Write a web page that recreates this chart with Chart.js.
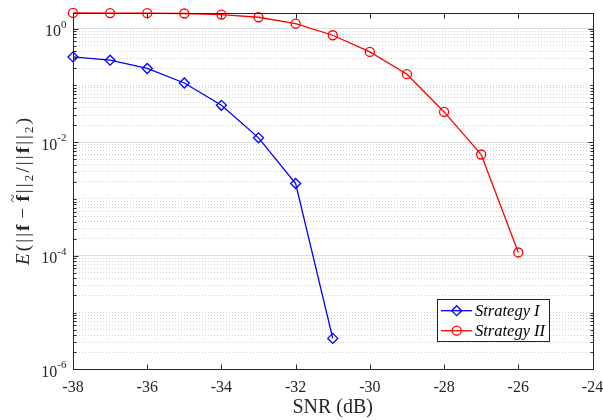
<!DOCTYPE html>
<html>
<head>
<meta charset="utf-8">
<script src="https://cdn.jsdelivr.net/npm/chart.js@4.4.0/dist/chart.umd.min.js"></script>
<style>
html, body { margin: 0; padding: 0; background: #fff; }
#wrap { width: 603px; height: 420px; }
</style>
</head>
<body>
<div id="wrap"><canvas id="myChart" width="603" height="420"></canvas></div>
<script>
// du lieu doc tu hinh
var snr = [-38, -37, -36, -35, -34, -33, -32, -31, -30, -29, -28, -27, -26];
var strategy1 = [0.316, 0.277, 0.198, 0.110, 0.0445, 0.0119, 0.00187, 3.5e-6];
var strategy2 = [1.88, 1.87, 1.86, 1.84, 1.76, 1.58, 1.22, 0.762, 0.387, 0.157, 0.034, 0.00605, 1.14e-4];
var xTicks = [-38, -36, -34, -32, -30, -28, -26, -24];
var yLabelExp = [0, -2, -4, -6];
var seriesNames = ['Strategy I', 'Strategy II'];

var yMin = 1e-6, yMax = 1.9;
var axisColor = '#262626';
var serif = '"Liberation Serif", "Times New Roman", serif';

function toPoints(xs, ys) {
    var out = [];
    ys.forEach(function (v, i) { out.push({ x: xs[i], y: v }); });
    return out;
}

function isMajor(tick) {
    return tick && tick.lvl === 2;
}

// ve khung, vach chia, nhan va chu thich kieu matlab
var matlabAxes = {
    id: 'matlabAxes',
    afterDraw: function (chart) {
        var ctx = chart.ctx;
        var ca = chart.chartArea;
        var xs = chart.scales.x, ys = chart.scales.y;
        var L = Math.round(ca.left) + 0.5, R = Math.round(ca.right) + 0.5;
        var T = Math.round(ca.top) + 0.5, B = Math.round(ca.bottom) + 0.5;
        ctx.save();
        ctx.strokeStyle = axisColor;
        ctx.lineWidth = 1;

        // vach x
        ctx.beginPath();
        xTicks.forEach(function (v) {
            var px = Math.round(xs.getPixelForValue(v)) + 0.5;
            ctx.moveTo(px, B); ctx.lineTo(px, B - 5);
            ctx.moveTo(px, T); ctx.lineTo(px, T + 5);
        });
        // vach y
        ys.ticks.forEach(function (t) {
            var py = Math.round(ys.getPixelForValue(t.value)) + 0.5;
            var len = t.lvl === 2 ? 5 : 3;
            ctx.moveTo(L, py); ctx.lineTo(L + len, py);
            ctx.moveTo(R, py); ctx.lineTo(R - len, py);
        });
        ctx.stroke();
        ctx.strokeRect(L, T, R - L, B - T);

        // nhan truc x
        ctx.fillStyle = axisColor;
        ctx.font = '16px ' + serif;
        ctx.textAlign = 'center';
        ctx.textBaseline = 'alphabetic';
        xTicks.forEach(function (v) {
            ctx.fillText(String(v), xs.getPixelForValue(v), 392);
        });

        // nhan truc y: 10 mu
        yLabelExp.forEach(function (e) {
            var py = ys.getPixelForValue(Math.pow(10, e));
            var right = ca.left - 6.5;
            ctx.font = '11px ' + serif;
            ctx.textAlign = 'right';
            var sup = String(e);
            var sw = ctx.measureText(sup).width;
            ctx.fillText(sup, right, py - 1);
            ctx.font = '16px ' + serif;
            ctx.fillText('10', right - sw, py + 7.5);
        });

        // tieu de truc x
        ctx.font = '20px ' + serif;
        ctx.textAlign = 'center';
        ctx.fillText('SNR (dB)', (ca.left + ca.right) / 2, 412.5);

        // tieu de truc y
        drawYTitle(ctx);

        // chu thich
        drawLegend(ctx, chart);
        ctx.restore();
    }
};

function drawYTitle(ctx) {
    var fs = 19;
    var segs = [
        { t: 'E', f: 'italic ' + fs + 'px ' + serif },
        { t: '(', f: fs + 'px ' + serif },
        { t: '|', f: fs + 'px ' + serif },
        { t: '|', f: fs + 'px ' + serif },
        { t: 'f', f: 'bold ' + fs + 'px ' + serif },
        { t: '\u2212', f: fs + 'px ' + serif, pad: 4 },
        { t: 'f', f: 'bold ' + fs + 'px ' + serif, tilde: true },
        { t: '|', f: fs + 'px ' + serif },
        { t: '|', f: fs + 'px ' + serif },
        { t: '2', f: '13px ' + serif, sub: true },
        { t: '/', f: fs + 'px ' + serif },
        { t: '|', f: fs + 'px ' + serif },
        { t: '|', f: fs + 'px ' + serif },
        { t: 'f', f: 'bold ' + fs + 'px ' + serif },
        { t: '|', f: fs + 'px ' + serif },
        { t: '|', f: fs + 'px ' + serif },
        { t: '2', f: '13px ' + serif, sub: true },
        { t: ')', f: fs + 'px ' + serif }
    ];
    var total = 0;
    segs.forEach(function (s) {
        ctx.font = s.f;
        s.w = ctx.measureText(s.t).width;
        total += s.w + 2 * (s.pad || 0);
    });
    var target = 147;
    var gap = (target - total) / (segs.length - 1);
    ctx.save();
    ctx.translate(29, 191.5);
    ctx.rotate(-Math.PI / 2);
    ctx.textAlign = 'left';
    ctx.textBaseline = 'alphabetic';
    ctx.fillStyle = axisColor;
    var x = -target / 2;
    segs.forEach(function (s) {
        x += (s.pad || 0);
        ctx.font = s.f;
        ctx.fillText(s.t, x, s.sub ? 4 : 0);
        if (s.tilde) {
            ctx.font = '14px ' + serif;
            ctx.textAlign = 'center';
            ctx.fillText('~', x + s.w / 2, -11);
            ctx.textAlign = 'left';
        }
        x += s.w + (s.pad || 0) + gap;
    });
    ctx.restore();
}

function drawMarker(ctx, style, x, y, r) {
    ctx.beginPath();
    if (style === 'rectRot') {
        ctx.moveTo(x, y - r); ctx.lineTo(x + r, y);
        ctx.lineTo(x, y + r); ctx.lineTo(x - r, y);
        ctx.closePath();
    } else {
        ctx.arc(x, y, r, 0, Math.PI * 2);
    }
    ctx.stroke();
}

function drawLegend(ctx, chart) {
    ctx.save();
    ctx.fillStyle = '#fff';
    ctx.fillRect(437.5, 299.5, 112, 42);
    ctx.strokeStyle = axisColor;
    ctx.lineWidth = 1;
    ctx.strokeRect(437.5, 299.5, 112, 42);
    var rows = [310.7, 330.7];
    chart.data.datasets.forEach(function (ds, i) {
        var y = rows[i];
        ctx.strokeStyle = ds.borderColor;
        ctx.lineWidth = ds.borderWidth;
        ctx.beginPath();
        ctx.moveTo(441, y); ctx.lineTo(472, y);
        ctx.stroke();
        ctx.lineWidth = ds.pointBorderWidth;
        drawMarker(ctx, ds.pointStyle, 456.7, y, ds.pointRadius);
        ctx.fillStyle = '#000';
        ctx.font = 'italic 16.5px ' + serif;
        ctx.textAlign = 'left';
        ctx.textBaseline = 'alphabetic';
        ctx.fillText(seriesNames[i], 475, y + 5.5);
    });
    ctx.restore();
}

var ctx = document.getElementById('myChart').getContext('2d');

var data = {
    datasets: [{
        label: seriesNames[0],
        data: toPoints(snr, strategy1),
        borderColor: '#0000ff',
        backgroundColor: 'rgba(0,0,0,0)',
        borderWidth: 1.3,
        pointStyle: 'rectRot',
        pointRadius: 5,
        pointBorderWidth: 1.3,
        pointBackgroundColor: 'rgba(0,0,0,0)',
        pointBorderColor: '#0000ff',
        tension: 0,
        clip: false
    }, {
        label: seriesNames[1],
        data: toPoints(snr, strategy2),
        borderColor: '#ff0000',
        backgroundColor: 'rgba(0,0,0,0)',
        borderWidth: 1.3,
        pointStyle: 'circle',
        pointRadius: 4.5,
        pointBorderWidth: 1.3,
        pointBackgroundColor: 'rgba(0,0,0,0)',
        pointBorderColor: '#ff0000',
        tension: 0,
        clip: false
    }]
};

var options = {
    responsive: false,
    animation: false,
    layout: { padding: { left: 73, right: 10.5, top: 12.7, bottom: 50.7 } },
    plugins: {
        legend: { display: false },
        tooltip: { enabled: false }
    },
    scales: {
        x: {
            type: 'linear',
            min: -38,
            max: -24,
            ticks: { display: false, stepSize: 2 },
            grid: { display: false, drawTicks: false },
            border: { display: false },
            afterFit: function (s) { s.height = 0; }
        },
        y: {
            type: 'logarithmic',
            min: yMin,
            max: yMax,
            ticks: { display: false, autoSkip: false },
            afterBuildTicks: function (scale) {
                var t = [];
                for (var k = -6; k <= 0; k++) {
                    for (var n = 1; n <= 9; n++) {
                        var v = n * Math.pow(10, k);
                        if (v >= yMin && v <= yMax) {
                            t.push({ value: v, lvl: n === 1 ? (k % 2 === 0 ? 2 : 1) : 0 });
                        }
                    }
                }
                scale.ticks = t;
            },
            grid: {
                drawTicks: false,
                lineWidth: 1,
                color: function (c) { return isMajor(c.tick) ? '#dcdcdc' : '#cfcfcf'; }
            },
            border: {
                display: false,
                dash: function (c) { return c.tick && !isMajor(c.tick) ? [1, 2] : []; }
            },
            afterFit: function (s) { s.width = 0; }
        }
    }
};

var myChart = new Chart(ctx, {
    type: 'line',
    data: data,
    options: options,
    plugins: [matlabAxes]
});
</script>
</body>
</html>
